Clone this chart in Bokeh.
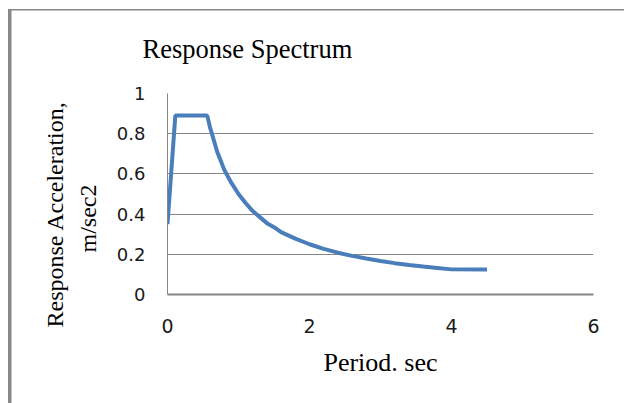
from bokeh.plotting import figure
from bokeh.models import Range1d, FixedTicker, Title
from bokeh.embed import file_html
from bokeh.resources import INLINE

# ---- data ----
period = [0.0, 0.11, 0.56, 0.6, 0.7, 0.8, 0.9, 1.0, 1.1, 1.2, 1.3, 1.4, 1.5, 1.6,
          1.8, 2.0, 2.2, 2.4, 2.6, 2.8, 3.0, 3.2, 3.4, 3.6, 3.8, 4.0, 4.5]
accel = [0.35, 0.89, 0.89, 0.83, 0.71, 0.62, 0.555, 0.50, 0.455, 0.415, 0.385, 0.355, 0.335, 0.31,
         0.278, 0.25, 0.227, 0.208, 0.192, 0.179, 0.167, 0.156, 0.147, 0.139, 0.132, 0.125, 0.124]
x_ticks = [0, 2, 4, 6]
y_ticks = [0, 0.2, 0.4, 0.6, 0.8, 1.0]
y_tick_labels = ["0", "0.2", "0.4", "0.6", "0.8", "1"]
title_text = "Response Spectrum"
x_label = "Period. sec"
y_label_lines = ["Response Acceleration,", "m/sec2"]

GRID = "#868686"
SERIF = "Liberation Serif"
TICKFONT = "DejaVu Sans"

p = figure(width=624, height=403, output_backend="svg", toolbar_location=None,
           x_range=Range1d(0, 6), y_range=Range1d(0, 1),
           min_border_left=167, min_border_right=31, min_border_top=93, min_border_bottom=109)
p.background_fill_color = "white"
p.border_fill_color = None
p.outline_line_color = None
# partial chart border drawn behind the transparent canvas border
p.styles = {
    "background-color": "white",
    "background-image": "linear-gradient(#888888, #888888), linear-gradient(#888888, #888888)",
    "background-size": "3.5px 400px, 620px 1.5px",
    "background-position": "7.5px 9px, 7.5px 9px",
    "background-repeat": "no-repeat",
}

p.line(period, accel, line_color="#4a7ebb", line_width=4)

# axes
p.xaxis.ticker = FixedTicker(ticks=x_ticks)
p.yaxis.ticker = FixedTicker(ticks=y_ticks)
p.yaxis.major_label_overrides = {t: s for t, s in zip(y_ticks, y_tick_labels)}
for ax in (p.xaxis[0], p.yaxis[0]):
    ax.major_tick_in = 0
    ax.major_tick_out = 0
    ax.minor_tick_in = 0
    ax.minor_tick_out = 0
    ax.axis_line_color = GRID
    ax.major_label_text_font = TICKFONT
    ax.major_label_text_font_size = "18px"
    ax.major_label_text_color = "#1a1a1a"
p.xaxis.major_label_text_font_size = "19px"
p.xaxis.axis_line_width = 2
p.yaxis.axis_line_width = 1
p.xaxis.major_label_standoff = 24
p.yaxis.major_label_standoff = 22

p.xaxis.axis_label = x_label
p.xaxis.axis_label_text_font = SERIF
p.xaxis.axis_label_text_font_style = "normal"
p.xaxis.axis_label_text_font_size = "26px"
p.xaxis.axis_label_text_color = "black"
p.xaxis.axis_label_standoff = 12

p.xgrid.visible = False
p.ygrid.grid_line_color = GRID
p.ygrid.grid_line_width = 1

# title
p.title = Title(text=title_text, align="left", offset=-25, standoff=60,
                text_font=SERIF, text_font_size="26.5px", text_font_style="normal",
                text_color="black")
# y label, two lines (nearest to frame first)
p.add_layout(Title(text=y_label_lines[1], align="left", offset=42, standoff=26,
                   text_font=SERIF, text_font_size="24px", text_font_style="normal",
                   text_color="black"), "left")
p.add_layout(Title(text=y_label_lines[0], align="left", offset=-33, standoff=-17,
                   text_font=SERIF, text_font_size="24px", text_font_style="normal",
                   text_color="black"), "left")

open("out.html", "w").write(file_html(p, INLINE))
